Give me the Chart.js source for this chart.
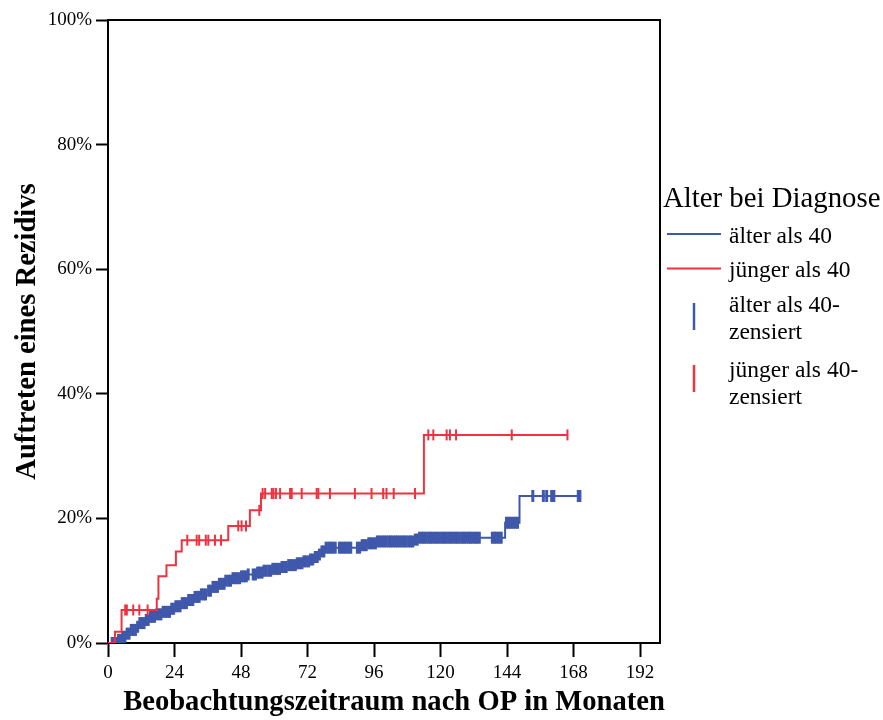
<!DOCTYPE html>
<html>
<head>
<meta charset="utf-8">
<script src="https://cdn.jsdelivr.net/npm/chart.js@4/dist/chart.umd.min.js"></script>
<style>
  html, body { margin: 0; padding: 0; background: #fff; }
  #wrap { width: 883px; height: 720px; }
</style>
</head>
<body>
<div id="wrap"><canvas id="km" width="883" height="720"></canvas></div>
<script>
// Cumulative recurrence (Kaplan-Meier, 1 - S) by age at diagnosis
const xTicks = [0, 24, 48, 72, 96, 120, 144, 168, 192];
const yTicks = [0, 20, 40, 60, 80, 100];

// Older than 40: step times (months) and cumulative incidence (%)
const olderTimes = [0, 3.6, 5.1, 6.9, 8.3, 10.1, 11.5, 13.4, 15.2, 17.0, 19.5, 22.4, 24.5, 26.7, 28.9,
  31.0, 33.2, 35.4, 37.5, 39.7, 42.2, 44.7, 47.6, 50.5, 53.4, 56.3, 59.2, 62.1, 65.0, 67.8, 70.7,
  72.9, 74.3, 75.8, 77.2, 78.7, 91.7, 93.8, 96.7, 110.4, 111.9, 143.3, 148.5, 170.7];
const olderValues = [0, 0.5, 1.0, 1.5, 2.1, 2.6, 3.2, 3.7, 4.2, 4.6, 5.0, 5.5, 5.9, 6.4, 6.9,
  7.4, 7.8, 8.4, 9.0, 9.5, 10.0, 10.4, 10.7, 11.0, 11.3, 11.6, 11.9, 12.2, 12.5, 12.8, 13.1,
  13.4, 13.8, 14.2, 14.7, 15.3, 15.7, 16.0, 16.3, 16.6, 16.9, 19.3, 23.6, 23.6];

// Younger than 40
const youngerTimes = [0, 2.5, 4.9, 17.6, 18.2, 21.1, 24.5, 26.6, 43.4, 51.2, 55.2, 114.0, 165.8];
const youngerValues = [0, 1.8, 5.3, 7.1, 10.7, 12.5, 14.7, 16.5, 18.8, 21.3, 24.0, 33.4, 33.4];

// Censored observations (months)
const olderCensored = [1.5, 2.3, 3.1, 3.8, 4.6, 5.3, 6.1, 6.9, 7.6, 8.4, 9.2, 9.9, 10.7, 11.5, 12.2,
  13.0, 13.8, 14.5, 15.3, 16.1, 16.8, 17.6, 18.4, 19.1, 19.9, 20.7, 21.4, 22.2, 23.0, 23.7, 24.5,
  25.3, 26.0, 26.8, 27.6, 28.3, 29.1, 29.9, 30.6, 31.4, 32.2, 32.9, 33.7, 34.5, 35.2,
  36.3, 37.0, 37.9, 38.6, 39.5, 40.2, 41.0, 41.9, 42.5,
  43.5, 44.2, 45.1, 45.8, 46.6, 47.5, 48.2, 49.0, 49.9, 50.6,
  52.4, 53.2, 54.0, 54.7, 55.6, 56.3, 57.1, 58.0, 58.7, 59.5, 60.4, 61.1, 61.9, 62.8, 63.5, 64.3,
  65.2, 65.9, 66.7, 67.6, 68.3, 69.1, 70.0, 70.7, 71.5, 72.4, 73.1, 73.9, 74.8, 75.5, 76.3, 77.2,
  77.9, 78.7, 79.6, 80.3, 81.1, 82.0,
  83.5, 84.3, 85.2, 85.9, 86.8, 87.6,
  90.0, 90.8, 91.7, 92.4, 93.2, 94.1, 94.8, 95.6, 96.5, 97.2, 98.0, 98.9, 99.6, 100.4, 101.3,
  102.0, 102.8, 103.7, 104.4, 105.2, 106.1, 106.8, 107.6, 108.5, 109.2, 110.0, 110.9, 111.6,
  112.4, 113.3, 114.0, 114.8, 115.7, 116.4, 117.2, 118.1, 118.8, 119.6, 120.5, 121.2, 122.0,
  122.9, 123.6, 124.4, 125.3, 126.0, 126.8, 127.7, 128.4, 129.2, 130.1, 130.8, 131.6, 132.5,
  133.2, 134.0,
  138.7, 139.5, 140.3, 141.1, 141.9,
  143.8, 144.6, 145.4, 146.2, 147.0, 147.8,
  153.3, 157.1, 158.3, 160.1, 160.9, 169.7, 170.3];
const youngerCensored = [6.2, 6.8, 9.1, 11.3, 14.3, 28.6, 32.0, 32.9, 35.3, 36.2, 38.6, 40.8,
  47.0, 48.2, 49.8, 54.6, 55.8, 56.7, 59.1, 59.7, 60.6, 62.1, 65.7, 66.3, 69.9, 75.3, 75.9,
  80.1, 89.1, 95.1, 99.3, 100.5, 103.1, 110.8, 115.6, 117.4, 122.2, 123.4, 125.6, 145.7, 165.8];

const legendTitle = 'Alter bei Diagnose';
const seriesNames = ['älter als 40', 'jünger als 40'];
const censorNames = [['älter als 40-', 'zensiert'], ['jünger als 40-', 'zensiert']];
const xTitle = 'Beobachtungszeitraum nach OP in Monaten';
const yTitle = 'Auftreten eines Rezidivs';

const BLUE = '#3f58ab';
const RED = '#ee3340';
const FONT = '"Liberation Serif", "Times New Roman", serif';

function curvePoints(times, values) {
  return times.map((t, i) => ({ x: t, y: values[i] }));
}
// value of a step curve at time t (last step at or before t)
function levelAt(times, values, t) {
  let v = values[0];
  for (let i = 0; i < times.length; i++) {
    if (times[i] <= t) v = values[i]; else break;
  }
  return v;
}
function censorPoints(cens, times, values) {
  return cens.map(t => ({ x: t, y: levelAt(times, values, t) }));
}

const decorations = {
  id: 'decorations',
  afterDraw(chart) {
    const { ctx, chartArea: a } = chart;
    ctx.save();
    // top and right sides of the frame
    ctx.strokeStyle = '#000';
    ctx.lineWidth = 2;
    ctx.beginPath();
    ctx.moveTo(a.left, a.top);
    ctx.lineTo(a.right, a.top);
    ctx.lineTo(a.right, a.bottom);
    ctx.stroke();

    // axis titles
    ctx.fillStyle = '#000';
    ctx.font = 'bold 28.6px ' + FONT;
    ctx.textAlign = 'center';
    ctx.textBaseline = 'middle';
    ctx.fillText(xTitle, 394, 703);
    ctx.save();
    ctx.translate(28, (a.top + a.bottom) / 2);
    ctx.rotate(-Math.PI / 2);
    ctx.fillText(yTitle, 0, 0);
    ctx.restore();

    // legend
    ctx.textAlign = 'left';
    ctx.textBaseline = 'alphabetic';
    ctx.font = '28.8px ' + FONT;
    ctx.fillText(legendTitle, 663, 207);

    ctx.font = '23.5px ' + FONT;
    const lineRows = [{ c: BLUE, y: 234, base: 243 }, { c: RED, y: 268.5, base: 277 }];
    lineRows.forEach((r, i) => {
      ctx.strokeStyle = r.c;
      ctx.lineWidth = 2;
      ctx.beginPath();
      ctx.moveTo(667, r.y);
      ctx.lineTo(721, r.y);
      ctx.stroke();
      ctx.fillText(seriesNames[i], 729, r.base);
    });
    const censorRows = [{ c: BLUE, y0: 303, y1: 330, base: 312 }, { c: RED, y0: 365, y1: 392, base: 377 }];
    censorRows.forEach((r, i) => {
      ctx.strokeStyle = r.c;
      ctx.lineWidth = 2.5;
      ctx.beginPath();
      ctx.moveTo(694, r.y0);
      ctx.lineTo(694, r.y1);
      ctx.stroke();
      ctx.fillText(censorNames[i][0], 729, r.base);
      ctx.fillText(censorNames[i][1], 729, r.base + 26.5);
    });
    ctx.restore();
  }
};

new Chart(document.getElementById('km'), {
  type: 'line',
  data: {
    datasets: [
      {
        label: seriesNames[1],
        data: curvePoints(youngerTimes, youngerValues),
        stepped: 'before',
        borderColor: RED,
        borderWidth: 2,
        pointRadius: 0,
        fill: false
      },
      {
        label: censorNames[1].join(''),
        type: 'scatter',
        data: censorPoints(youngerCensored, youngerTimes, youngerValues),
        showLine: false,
        pointStyle: 'line',
        rotation: 90,
        radius: 5.5,
        borderColor: RED,
        backgroundColor: RED,
        borderWidth: 2
      },
      {
        label: seriesNames[0],
        data: curvePoints(olderTimes, olderValues),
        stepped: 'before',
        borderColor: BLUE,
        borderWidth: 2,
        pointRadius: 0,
        fill: false
      },
      {
        label: censorNames[0].join(''),
        type: 'scatter',
        data: censorPoints(olderCensored, olderTimes, olderValues),
        showLine: false,
        pointStyle: 'line',
        rotation: 90,
        radius: 6,
        borderColor: BLUE,
        backgroundColor: BLUE,
        borderWidth: 3
      }
    ]
  },
  options: {
    responsive: false,
    animation: false,
    devicePixelRatio: 1,
    layout: { padding: { top: 20, right: 223, left: 0, bottom: 0 } },
    plugins: {
      legend: { display: false },
      tooltip: { enabled: false }
    },
    scales: {
      x: {
        type: 'linear',
        min: 0,
        max: 199.2,
        afterBuildTicks: s => { s.ticks = xTicks.map(v => ({ value: v })); },
        afterFit: s => { s.height = 77; },
        ticks: {
          color: '#000',
          font: { family: FONT, size: 19 },
          padding: 5,
          maxRotation: 0,
          autoSkip: false
        },
        grid: {
          drawOnChartArea: false,
          drawTicks: true,
          tickLength: 14,
          tickColor: '#000',
          tickWidth: 2
        },
        border: { display: true, color: '#000', width: 2 }
      },
      y: {
        type: 'linear',
        min: 0,
        max: 100,
        afterBuildTicks: s => { s.ticks = yTicks.map(v => ({ value: v })); },
        afterFit: s => { s.width = 108; },
        ticks: {
          color: '#000',
          font: { family: FONT, size: 19 },
          padding: 4,
          callback: v => v + '%'
        },
        grid: {
          drawOnChartArea: false,
          drawTicks: true,
          tickLength: 12,
          tickColor: '#000',
          tickWidth: 2
        },
        border: { display: true, color: '#000', width: 2 }
      }
    }
  },
  plugins: [decorations]
});
</script>
</body>
</html>
